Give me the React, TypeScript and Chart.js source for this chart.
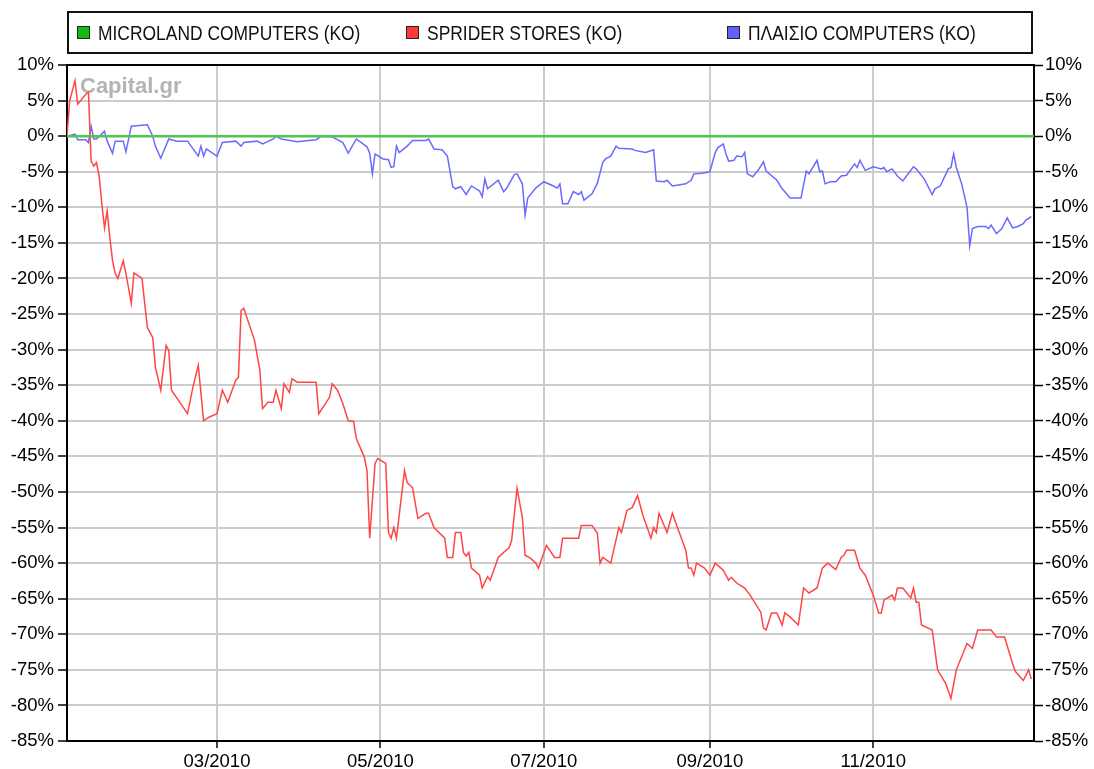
import React, { useEffect, useRef } from 'react';
import { Chart, registerables } from 'chart.js';

Chart.register(...registerables);

// Series names (legend)
const seriesNames = ['MICROLAND COMPUTERS (KO)', 'SPRIDER STORES (KO)', 'ΠΛΑΙΣΙΟ COMPUTERS (KO)'];
const seriesColors = ['#4cc84c', '#ff4646', '#6a6aff'];
const legendSwatch = ['#11bb11', '#ff3838', '#6060ff'];

// X axis: days of 2010 (0 = 1 Jan 2010)
const xMinDay = 3;
const xMaxDay = 364;
const tickDays = [59, 120, 181, 243, 304];
const tickLabels = ['03/2010', '05/2010', '07/2010', '09/2010', '11/2010'];

// Y axis (% change)
const yMin = -85;
const yMax = 10;
const yStep = 5;

// MICROLAND COMPUTERS (KO)
const microlandDays = [3, 364];
const microlandValues = [0, 0];

// SPRIDER STORES (KO)
const spriderDays = [
  3, 4, 6, 7, 10, 11, 12, 13, 14, 15,
  16, 17, 18, 19, 20, 21, 22, 24, 25, 27,
  28, 31, 33, 35, 36, 38, 40, 41, 42, 48,
  50, 52, 54, 56, 59, 61, 63, 66, 67, 68,
  69, 73, 75, 76, 78, 80, 81, 83, 84, 86,
  87, 89, 96, 97, 101, 102, 104, 106, 108, 110,
  111, 114, 115, 116, 118, 119, 122, 123, 124, 125,
  126, 129, 130, 132, 134, 137, 138, 140, 144, 145,
  147, 148, 150, 151, 152, 153, 154, 157, 158, 160,
  161, 164, 166, 168, 169, 171, 173, 174, 176, 178,
  179, 182, 185, 187, 188, 194, 195, 199, 201, 202,
  203, 206, 209, 210, 212, 214, 216, 218, 221, 222,
  223, 224, 227, 229, 231, 234, 235, 236, 237, 238,
  241, 243, 245, 248, 250, 251, 253, 256, 258, 262,
  263, 264, 266, 268, 270, 271, 273, 276, 278, 280,
  283, 285, 287, 290, 292, 293, 294, 297, 299, 301,
  304, 306, 307, 308, 311, 312, 313, 315, 318, 319,
  320, 321, 322, 326, 328, 331, 333, 335, 339, 341,
  343, 348, 350, 353, 356, 357, 360, 362, 363,
];
const spriderValues = [
  0, 5.0, 7.8, 4.5, 5.9, 6.2, -3.5, -4.2, -3.7, -5.6,
  -9.5, -12.9, -10.5, -14.3, -17.5, -19.3, -20, -17.5, -19.3, -23.5,
  -19.2, -20, -26.9, -28.3, -32.5, -35.7, -29.4, -30.1, -35.7, -39,
  -35.3, -32.2, -40, -39.5, -39, -35.7, -37.4, -34.3, -33.9, -24.5,
  -24.2, -28.7, -32.9, -38.3, -37.4, -37.4, -35.7, -38.3, -34.8, -36,
  -34.1, -34.6, -34.6, -39, -36.7, -34.8, -35.7, -37.6, -40, -40.1,
  -42.5, -45.1, -47, -56.5, -46, -45.3, -46, -55.7, -56.5, -55,
  -56.5, -47, -48.7, -49.4, -53.7, -53, -53, -55, -56.5, -59.2,
  -59.2, -55.7, -55.7, -58.5, -59, -58.5, -60.7, -61.7, -63.5, -61.9,
  -62.4, -59.2, -58.5, -57.9, -56.8, -49.5, -53.6, -58.9, -59.3, -60,
  -60.7, -57.5, -59.2, -59.2, -56.5, -56.5, -54.7, -54.7, -55.8, -60,
  -59.2, -60, -55, -55.7, -52.6, -52.2, -50.5, -53.3, -56.5, -55,
  -55.7, -53, -55.7, -53, -55.1, -58.2, -60.7, -60.7, -61.7, -60,
  -60.7, -61.7, -60, -61, -62.4, -62, -62.8, -63.5, -64.5, -66.9,
  -69.1, -69.4, -67, -67, -68.7, -67, -67.6, -68.7, -63.5, -64.2,
  -63.5, -60.7, -60, -60.9, -59.2, -58.9, -58.2, -58.2, -60.7, -61.7,
  -64.5, -67, -67, -65.2, -64.5, -65.2, -63.5, -63.5, -64.9, -63.5,
  -65.5, -65.5, -68.7, -69.4, -75, -76.9, -79, -75, -71.3, -72,
  -69.4, -69.4, -70.4, -70.4, -74.1, -75.2, -76.5, -75, -76.3,
];

// ΠΛΑΙΣΙΟ COMPUTERS (KO)
const plaisioDays = [
  3, 6, 7, 10, 11, 12, 13, 14, 17, 18,
  20, 21, 24, 25, 27, 33, 35, 36, 38, 41,
  44, 48, 52, 53, 54, 55, 59, 61, 66, 68,
  69, 74, 76, 80, 81, 83, 89, 96, 98, 102,
  106, 108, 111, 115, 116, 117, 118, 121, 123, 124,
  125, 126, 127, 130, 132, 137, 138, 140, 143, 145,
  147, 148, 150, 152, 154, 157, 158, 159, 160, 164,
  166, 167, 170, 171, 173, 174, 175, 178, 181, 184,
  186, 187, 188, 190, 192, 194, 195, 196, 199, 201,
  203, 204, 206, 208, 209, 214, 215, 219, 222, 223,
  226, 227, 229, 234, 236, 237, 240, 243, 245, 246,
  248, 249, 250, 252, 253, 255, 256, 257, 259, 261,
  263, 264, 268, 270, 273, 277, 279, 280, 283, 284,
  285, 286, 288, 290, 292, 294, 297, 298, 299, 301,
  304, 307, 308, 309, 311, 313, 315, 319, 320, 323,
  326, 327, 329, 332, 333, 334, 335, 337, 339, 340,
  341, 343, 346, 347, 348, 350, 352, 354, 356, 358,
  360, 361, 363,
];
const plaisioValues = [
  0, 0.3, -0.5, -0.5, -0.9, 1.4, -0.4, -0.4, 0.7, -0.7,
  -2.4, -0.7, -0.7, -2.2, 1.4, 1.6, 0, -1.4, -3.1, -0.4,
  -0.7, -0.7, -2.8, -1.4, -2.8, -1.8, -2.8, -0.9, -0.7, -1.4,
  -0.9, -0.7, -1.1, -0.4, 0, -0.4, -0.8, -0.5, 0, -0.1,
  -0.9, -2.4, -0.4, -1.5, -2.4, -5.3, -2.5, -3.2, -3.3, -4.4,
  -4.3, -1.4, -2.3, -1.4, -0.6, -0.6, -0.4, -1.8, -1.9, -2.8,
  -7.1, -7.4, -7.1, -8.2, -7, -7.7, -8.5, -6, -7.4, -6.2,
  -7.8, -7.4, -5.4, -5.3, -6.7, -11.1, -8.7, -7.3, -6.4, -6.9,
  -7.3, -6.7, -9.5, -9.5, -7.8, -8.2, -7.8, -9, -8.1, -6.6,
  -3.7, -3.2, -2.8, -1.4, -1.7, -1.8, -2, -2.3, -1.9, -6.3,
  -6.4, -6.2, -7, -6.7, -6.2, -5.3, -5.2, -5, -2.3, -1.6,
  -1.1, -2.5, -3.5, -3.4, -2.8, -2.9, -2.3, -5.3, -5.7, -4.8,
  -3.6, -4.9, -6.2, -7.4, -8.7, -8.7, -4.9, -5.3, -3.4, -5,
  -4.9, -6.7, -6.4, -6.4, -5.6, -5.5, -3.9, -4.4, -3.4, -4.8,
  -4.3, -4.6, -4.4, -5, -4.6, -5.6, -6.3, -4.3, -4.6, -6,
  -8.2, -7.4, -7, -4.6, -4.4, -2.5, -4.4, -6.7, -10, -15.4,
  -13, -12.7, -12.7, -13, -12.5, -13.7, -13, -11.5, -12.9, -12.7,
  -12.3, -11.8, -11.3,
];

const watermark = 'Capital.gr';

const FONT = "'Liberation Sans', Arial, sans-serif";

const toPoints = (days: number[], values: number[]) =>
  days.map((d, i) => ({ x: d, y: values[i] }));

const framePlugin = {
  id: 'frameLegendWatermark',
  beforeDatasetsDraw(chart: any) {
    const { ctx, chartArea } = chart;
    ctx.save();
    ctx.font = `bold 22px ${FONT}`;
    ctx.fillStyle = '#b4b4b4';
    ctx.textBaseline = 'alphabetic';
    ctx.textAlign = 'left';
    ctx.fillText(watermark, chartArea.left + 13, chartArea.top + 28);
    ctx.restore();
  },
  afterDraw(chart: any) {
    const { ctx, chartArea } = chart;
    ctx.save();
    // top frame line
    ctx.strokeStyle = '#000';
    ctx.lineWidth = 2;
    ctx.beginPath();
    ctx.moveTo(chartArea.left - 1, chartArea.top);
    ctx.lineTo(chartArea.right + 1, chartArea.top);
    ctx.stroke();

    // legend box
    ctx.lineWidth = 2;
    ctx.strokeStyle = '#111';
    ctx.strokeRect(68, 12, 964, 41);

    const swatchX = [77, 406, 727];
    seriesNames.forEach((name, i) => {
      ctx.fillStyle = legendSwatch[i];
      ctx.fillRect(swatchX[i], 26, 13, 13);
      ctx.lineWidth = 1;
      ctx.strokeStyle = '#222';
      ctx.strokeRect(swatchX[i] + 0.5, 26.5, 12, 12);
      // narrow-looking legend text (horizontally condensed)
      ctx.save();
      ctx.translate(swatchX[i] + 21, 40);
      ctx.scale(0.83, 1);
      ctx.font = `21px ${FONT}`;
      ctx.textBaseline = 'alphabetic';
      ctx.textAlign = 'left';
      ctx.fillStyle = '#111';
      ctx.fillText(name, 0, 0);
      ctx.restore();
    });
    ctx.restore();
  },
};

export default function App() {
  const canvasRef = useRef<HTMLCanvasElement | null>(null);

  useEffect(() => {
    document.body.style.margin = '0';
    document.body.style.background = '#fff';
    const canvas = canvasRef.current;
    if (!canvas) return;

    const tickFont = { family: FONT, size: 18.5 };

    const chart = new Chart(canvas, {
      type: 'line',
      data: {
        datasets: [
          {
            label: seriesNames[0],
            data: toPoints(microlandDays, microlandValues),
            borderColor: seriesColors[0],
            borderWidth: 2.5,
            pointRadius: 0,
            order: 0,
          },
          {
            label: seriesNames[1],
            data: toPoints(spriderDays, spriderValues),
            borderColor: seriesColors[1],
            borderWidth: 1.5,
            pointRadius: 0,
            order: 1,
          },
          {
            label: seriesNames[2],
            data: toPoints(plaisioDays, plaisioValues),
            borderColor: seriesColors[2],
            borderWidth: 1.5,
            pointRadius: 0,
            order: 2,
          },
        ],
      },
      options: {
        animation: false,
        responsive: false,
        maintainAspectRatio: false,
        layout: { padding: { top: 65, left: 0, right: 0, bottom: 0 } },
        elements: { line: { tension: 0 }, point: { radius: 0 } },
        plugins: {
          legend: { display: false },
          tooltip: { enabled: false },
        },
        scales: {
          x: {
            type: 'linear',
            min: xMinDay,
            max: xMaxDay,
            afterBuildTicks: (scale: any) => {
              scale.ticks = tickDays.map((v) => ({ value: v }));
            },
            afterFit: (scale: any) => {
              scale.height = 28;
            },
            ticks: {
              autoSkip: false,
              maxRotation: 0,
              padding: 3,
              color: '#000',
              font: tickFont,
              callback: (value: any) => {
                const i = tickDays.indexOf(Number(value));
                return i >= 0 ? tickLabels[i] : '';
              },
            },
            grid: {
              color: '#cccccc',
              lineWidth: 2,
              tickColor: '#000',
              tickLength: 7,
              tickWidth: 1.5,
            },
            border: { color: '#000', width: 2 },
          },
          y: {
            position: 'left',
            min: yMin,
            max: yMax,
            afterFit: (scale: any) => {
              scale.width = 67;
            },
            ticks: {
              stepSize: yStep,
              padding: 4,
              color: '#000',
              font: tickFont,
              callback: (v: any) => `${v}%`,
            },
            grid: {
              color: '#cccccc',
              lineWidth: 2,
              tickColor: '#000',
              tickLength: 9,
              tickWidth: 1.5,
            },
            border: { color: '#000', width: 2 },
          },
          y2: {
            position: 'right',
            min: yMin,
            max: yMax,
            afterFit: (scale: any) => {
              scale.width = 60;
            },
            ticks: {
              stepSize: yStep,
              padding: 2,
              color: '#000',
              font: tickFont,
              callback: (v: any) => `${v}%`,
            },
            grid: {
              drawOnChartArea: false,
              tickColor: '#000',
              tickLength: 9,
              tickWidth: 1.5,
            },
            border: { color: '#000', width: 2 },
          },
        },
      } as any,
      plugins: [framePlugin],
    });

    return () => {
      chart.destroy();
    };
  }, []);

  return (
    <div style={{ width: 1094, height: 769, overflow: 'hidden', background: '#fff' }}>
      <canvas ref={canvasRef} width={1094} height={769} style={{ display: 'block' }} />
    </div>
  );
}
